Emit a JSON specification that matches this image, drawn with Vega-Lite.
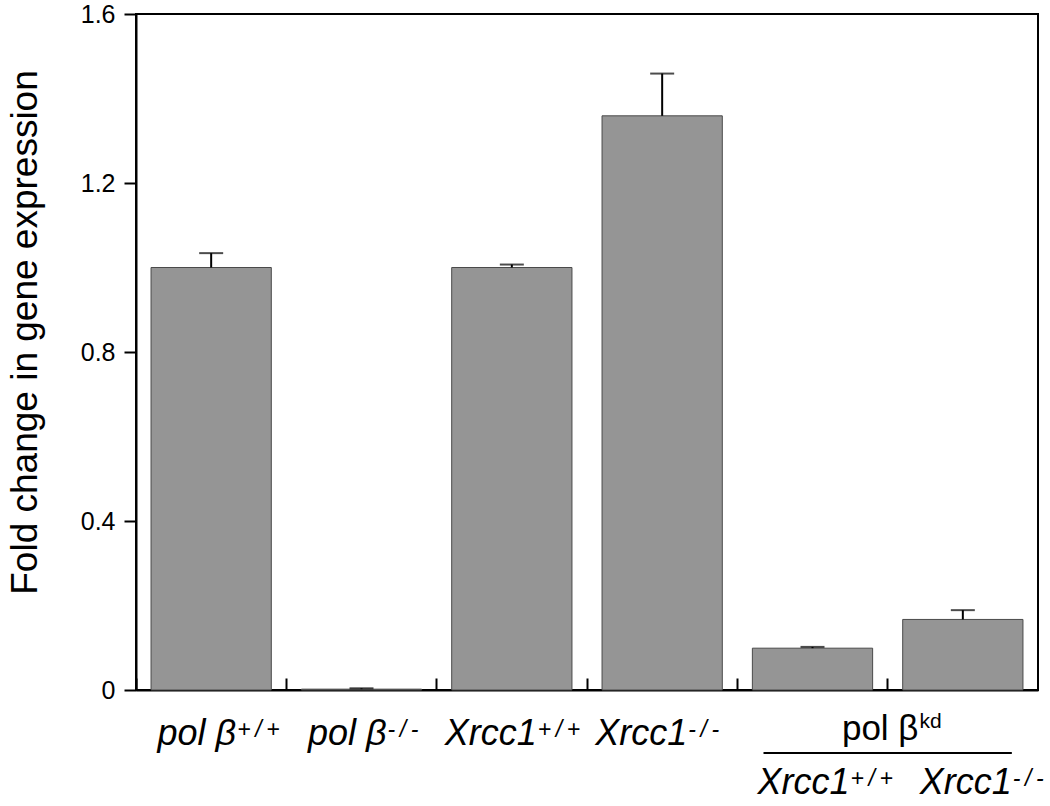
{
  "$schema": "https://vega.github.io/schema/vega-lite/v6.json",
  "autosize": {"type": "none"},
  "width": 902,
  "height": 676,
  "padding": {"left": 136, "top": 14, "right": 12, "bottom": 116},
  "background": "white",
  "config": {
    "view": {"stroke": "black", "strokeWidth": 2},
    "font": "Liberation Sans"
  },
  "data": {
    "values": [
      {"cat": "1", "value": 1.0, "err_hi": 1.034, "base": "pol β", "sup": "+\u2009/\u2009+", "row": "upper"},
      {"cat": "2", "value": 0.002, "err_hi": 0.004, "base": "pol β", "sup": "-\u2009/\u2009-", "row": "upper"},
      {"cat": "3", "value": 1.0, "err_hi": 1.007, "base": "Xrcc1", "sup": "+\u2009/\u2009+", "row": "upper"},
      {"cat": "4", "value": 1.359, "err_hi": 1.459, "base": "Xrcc1", "sup": "-\u2009/\u2009-", "row": "upper"},
      {"cat": "5", "value": 0.099, "err_hi": 0.102, "base": "Xrcc1", "sup": "+\u2009/\u2009+", "row": "lower"},
      {"cat": "6", "value": 0.167, "err_hi": 0.189, "base": "Xrcc1", "sup": "-\u2009/\u2009-", "row": "lower"}
    ]
  },
  "encoding": {
    "x": {
      "field": "cat",
      "type": "nominal",
      "sort": ["1", "2", "3", "4", "5", "6"],
      "scale": {"paddingInner": 0, "paddingOuter": 0},
      "axis": {
        "title": null,
        "labels": false,
        "domain": true,
        "domainColor": "black",
        "domainWidth": 2,
        "ticks": true,
        "bandPosition": 0,
        "tickSize": -12,
        "tickWidth": 2,
        "tickColor": "black",
        "grid": false
      }
    }
  },
  "layer": [
    {
      "mark": {"type": "bar", "fill": "#959595", "stroke": "#4a4a4a", "strokeWidth": 1, "width": {"band": 0.8}},
      "encoding": {
        "y": {
          "field": "value",
          "type": "quantitative",
          "scale": {"domain": [0, 1.6], "nice": false},
          "axis": {
            "title": "Fold change in gene expression",
            "titleFont": "Liberation Sans",
            "titleFontSize": 37,
            "titleFontWeight": "normal",
            "titleColor": "black",
            "titlePadding": 36,
            "titleY": 318,
            "values": [0, 0.4, 0.8, 1.2, 1.6],
            "format": ".1~f",
            "labelFont": "Liberation Sans",
            "labelFontSize": 25,
            "labelColor": "black",
            "labelPadding": 9,
            "tickSize": 12,
            "tickWidth": 2,
            "tickColor": "black",
            "domainColor": "black",
            "domainWidth": 2,
            "grid": false
          }
        }
      }
    },
    {
      "mark": {"type": "rule", "color": "black", "strokeWidth": 2},
      "encoding": {
        "y": {"field": "value", "type": "quantitative"},
        "y2": {"field": "err_hi"}
      }
    },
    {
      "mark": {"type": "tick", "orient": "horizontal", "size": 24, "thickness": 2, "color": "black"},
      "encoding": {
        "y": {"field": "err_hi", "type": "quantitative"}
      }
    },
    {
      "transform": [{"filter": "datum.row === 'upper'"}],
      "mark": {"type": "text", "align": "right", "baseline": "alphabetic", "dx": 25, "dy": 55, "font": "Liberation Sans", "fontStyle": "italic", "fontSize": 36, "color": "black"},
      "encoding": {"y": {"datum": 0}, "text": {"field": "base"}}
    },
    {
      "transform": [{"filter": "datum.row === 'upper'"}],
      "mark": {"type": "text", "align": "left", "baseline": "alphabetic", "dx": 26, "dy": 47, "font": "Liberation Sans", "fontStyle": "italic", "fontSize": 23, "color": "black"},
      "encoding": {"y": {"datum": 0}, "text": {"field": "sup"}}
    },
    {
      "transform": [{"filter": "datum.cat === '5'"}],
      "mark": {"type": "text", "align": "right", "baseline": "alphabetic", "dx": 37, "dy": 104, "font": "Liberation Sans", "fontStyle": "italic", "fontSize": 36, "color": "black"},
      "encoding": {"y": {"datum": 0}, "text": {"field": "base"}}
    },
    {
      "transform": [{"filter": "datum.cat === '5'"}],
      "mark": {"type": "text", "align": "left", "baseline": "alphabetic", "dx": 38, "dy": 96, "font": "Liberation Sans", "fontStyle": "italic", "fontSize": 23, "color": "black"},
      "encoding": {"y": {"datum": 0}, "text": {"field": "sup"}}
    },
    {
      "transform": [{"filter": "datum.cat === '6'"}],
      "mark": {"type": "text", "align": "right", "baseline": "alphabetic", "dx": 49, "dy": 104, "font": "Liberation Sans", "fontStyle": "italic", "fontSize": 36, "color": "black"},
      "encoding": {"y": {"datum": 0}, "text": {"field": "base"}}
    },
    {
      "transform": [{"filter": "datum.cat === '6'"}],
      "mark": {"type": "text", "align": "left", "baseline": "alphabetic", "dx": 50, "dy": 96, "font": "Liberation Sans", "fontStyle": "italic", "fontSize": 23, "color": "black"},
      "encoding": {"y": {"datum": 0}, "text": {"field": "sup"}}
    },
    {
      "transform": [{"filter": "datum.cat === '5'"}],
      "mark": {"type": "text", "align": "right", "baseline": "alphabetic", "dx": 106, "dy": 50, "font": "Liberation Sans", "fontSize": 35, "color": "black", "text": "pol β"},
      "encoding": {"y": {"datum": 0}}
    },
    {
      "transform": [{"filter": "datum.cat === '5'"}],
      "mark": {"type": "text", "align": "left", "baseline": "alphabetic", "dx": 107, "dy": 38, "font": "Liberation Sans", "fontSize": 21, "color": "black", "text": "kd"},
      "encoding": {"y": {"datum": 0}}
    },
    {
      "transform": [{"filter": "datum.cat === '5'"}],
      "mark": {"type": "rule", "color": "black", "strokeWidth": 2, "xOffset": -49, "x2Offset": 49, "yOffset": 63},
      "encoding": {"x": {"datum": "5"}, "x2": {"datum": "6"}, "y": {"datum": 0}}
    }
  ]
}
